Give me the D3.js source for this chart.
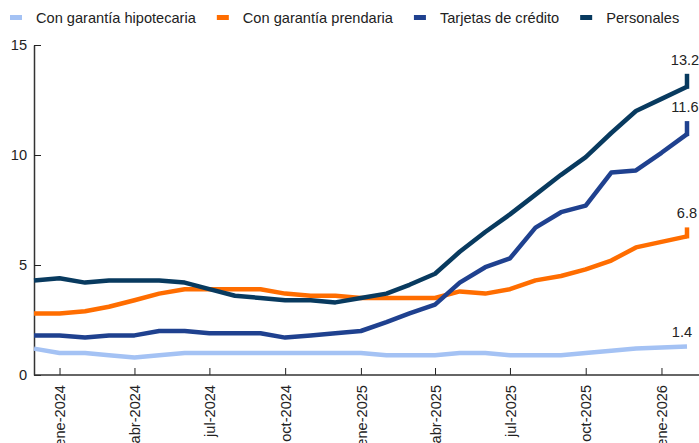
<!DOCTYPE html>
<html>
<head>
<meta charset="utf-8">
<script src="https://cdn.jsdelivr.net/npm/d3@7"></script>
<style>
  body { margin: 0; background: #fff; }
  svg { display: block; font-family: "Liberation Sans", Arial, sans-serif; }
</style>
</head>
<body>
<script>
// meses (dic-2023 .. feb-2026)
var months = ["2023-12",
  "2024-01", "2024-02", "2024-03", "2024-04", "2024-05", "2024-06",
  "2024-07", "2024-08", "2024-09", "2024-10", "2024-11", "2024-12",
  "2025-01", "2025-02", "2025-03", "2025-04", "2025-05", "2025-06",
  "2025-07", "2025-08", "2025-09", "2025-10", "2025-11", "2025-12",
  "2026-01", "2026-02"];

var hipotecaria = [1.2, 1.0, 1.0, 0.9, 0.8, 0.9, 1.0, 1.0, 1.0, 1.0, 1.0, 1.0, 1.0,
  1.0, 0.9, 0.9, 0.9, 1.0, 1.0, 0.9, 0.9, 0.9, 1.0, 1.1, 1.2, 1.25, 1.3];
var prendaria = [2.8, 2.8, 2.9, 3.1, 3.4, 3.7, 3.9, 3.9, 3.9, 3.9, 3.7, 3.6, 3.6,
  3.5, 3.5, 3.5, 3.5, 3.8, 3.7, 3.9, 4.3, 4.5, 4.8, 5.2, 5.8, 6.05, 6.3];
var tarjetas = [1.8, 1.8, 1.7, 1.8, 1.8, 2.0, 2.0, 1.9, 1.9, 1.9, 1.7, 1.8, 1.9,
  2.0, 2.4, 2.8, 3.2, 4.2, 4.9, 5.3, 6.7, 7.4, 7.7, 9.2, 9.3, 10.1, 10.95];
var personales = [4.3, 4.4, 4.2, 4.3, 4.3, 4.3, 4.2, 3.9, 3.6, 3.5, 3.4, 3.4, 3.3,
  3.5, 3.7, 4.1, 4.6, 5.6, 6.5, 7.3, 8.2, 9.1, 9.9, 11.0, 12.0, 12.55, 13.1];

var seriesNames = ["Con garantía hipotecaria", "Con garantía prendaria", "Tarjetas de crédito", "Personales"];
var endLabels = ["1.4", "6.8", "11.6", "13.2"];

// ticks
var tickMonths = ["2024-01", "2024-04", "2024-07", "2024-10", "2025-01", "2025-04", "2025-07", "2025-10", "2026-01"];
var monthAbbr = ["ene", "feb", "mar", "abr", "may", "jun", "jul", "ago", "sep", "oct", "nov", "dic"];
var yTicks = [0, 5, 10, 15];

// estilos
var colors = ["#a4c2f4", "#ff6d00", "#1f418f", "#083a5f"];
var leaderLen = [0, 9, 13, 13];
var labelShift = [-5, 0, -2, -2];
var fontSize = 14.6;

var width = 699, height = 443;
var margin = { top: 45, right: 12, bottom: 68, left: 34 };

var parse = d3.timeParse("%Y-%m");
var dates = months.map(parse);

var svg = d3.select('body')
  .append('svg')
  .attr('width', width)
  .attr('height', height);

var x = d3.scaleTime()
  .domain(d3.extent(dates))
  .range([margin.left, width - margin.right]);

var y = d3.scaleLinear()
  .domain([0, 15])
  .range([height - margin.bottom, margin.top]);

// eje y
var yAxis = svg.append('g')
  .attr('transform', `translate(${margin.left},0)`)
  .call(d3.axisLeft(y).tickValues(yTicks).tickSize(-7).tickSizeOuter(0).tickPadding(7));
yAxis.select('.domain').attr('stroke', '#333').attr('stroke-width', 1.5);
yAxis.selectAll('.tick line').attr('stroke', '#222');
yAxis.selectAll('text').attr('font-size', fontSize).attr('fill', '#222')
  .attr('font-family', '"Liberation Sans", Arial, sans-serif');

// eje x
var xAxis = svg.append('g')
  .attr('transform', `translate(0,${y(0)})`)
  .call(d3.axisBottom(x)
    .tickValues(tickMonths.map(parse))
    .tickFormat(d => monthAbbr[d.getMonth()] + '-' + d.getFullYear())
    .tickSize(-7).tickSizeOuter(0));
xAxis.select('.domain').remove();
xAxis.append('line')
  .attr('x1', margin.left).attr('x2', width)
  .attr('stroke', '#333').attr('stroke-width', 1.5);
xAxis.selectAll('.tick line').attr('stroke', '#222');
xAxis.selectAll('text')
  .attr('font-size', fontSize).attr('fill', '#222')
  .attr('font-family', '"Liberation Sans", Arial, sans-serif')
  .attr('transform', 'rotate(-90)')
  .attr('text-anchor', 'end')
  .attr('x', -10).attr('y', 0).attr('dy', '0.35em');

// lineas
var allSeries = [hipotecaria, prendaria, tarjetas, personales];
var line = d3.line()
  .x((d, i) => x(dates[i]))
  .y(d => y(d));

var lastDate = dates[dates.length - 1];

allSeries.forEach(function (vals, k) {
  var last = vals[vals.length - 1];
  svg.append('path')
    .attr('d', line(vals))
    .attr('fill', 'none')
    .attr('stroke', colors[k])
    .attr('stroke-width', 4.5)
    .attr('stroke-linejoin', 'round');
  if (leaderLen[k] > 0) {
    svg.append('line')
      .attr('x1', x(lastDate)).attr('x2', x(lastDate))
      .attr('y1', y(last) + 2).attr('y2', y(last) - leaderLen[k])
      .attr('stroke', colors[k])
      .attr('stroke-width', 4.5);
  }
  svg.append('text')
    .attr('x', x(lastDate) + labelShift[k])
    .attr('y', y(last) - leaderLen[k] - 9)
    .attr('text-anchor', 'middle')
    .attr('font-size', fontSize)
    .attr('fill', '#222')
    .text(endLabels[k]);
});

// leyenda
var lx = 10;
seriesNames.forEach(function (name, k) {
  svg.append('rect')
    .attr('x', lx).attr('y', 15)
    .attr('width', 12).attr('height', 5)
    .attr('fill', colors[k]);
  var t = svg.append('text')
    .attr('x', lx + 26).attr('y', 17.5)
    .attr('dy', '0.35em')
    .attr('font-size', fontSize)
    .attr('fill', '#222')
    .text(name);
  lx += 26 + t.node().getComputedTextLength() + 21;
});
</script>
</body>
</html>
